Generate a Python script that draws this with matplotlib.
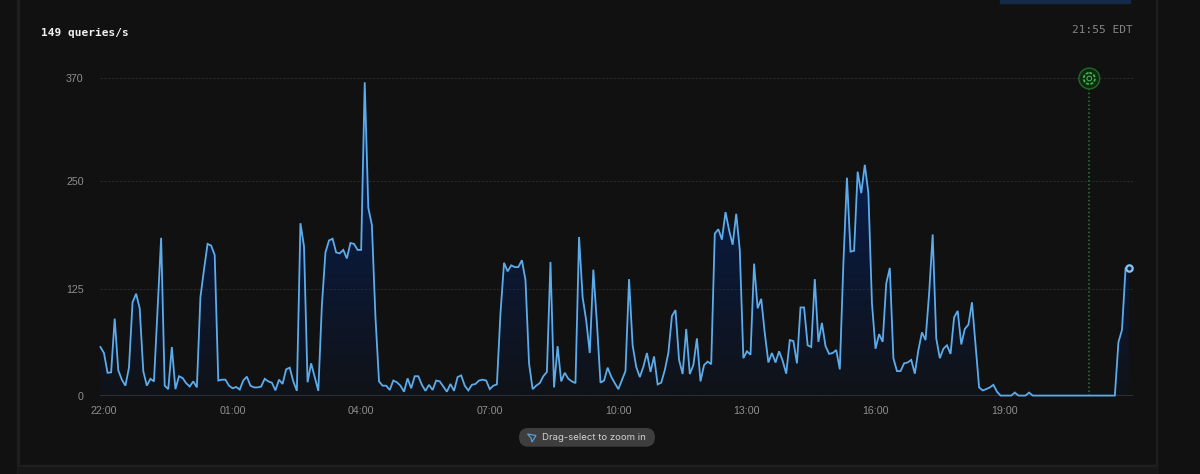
import numpy as np
import matplotlib
matplotlib.use("Agg")
import matplotlib.pyplot as plt
from matplotlib.patches import Circle, FancyBboxPatch, Polygon, Rectangle

# queries/s, one sample every 5 minutes starting 21:55
night = [57, 50, 27, 27.5, 90, 30, 19, 12, 33, 109, 119, 102, 29, 12, 20, 17,
         100, 184, 12, 8, 57, 8, 23, 21, 15, 11, 17, 10,
         115, 147, 177, 175, 164, 18, 19, 19, 12, 9, 10.5, 7.5,
         18, 22.5, 12, 10, 10, 11, 20, 17, 15.5, 6.5, 19, 14, 31, 33, 17, 6,
         201, 174, 16, 38, 22, 6, 105, 167,
         181, 183, 167, 166, 170, 160, 178, 177, 170, 170,
         365, 219, 199, 92, 17, 12, 12, 7, 18, 16]
morning = [12, 5, 20.5, 9, 23, 23, 13, 6, 13, 7, 18, 17, 11, 5, 14, 6, 22, 24, 12, 6.5,
           13, 14, 18, 19, 18, 8, 12, 13.5,
           96, 155, 145, 152, 150, 150, 158, 135, 38, 8, 12, 15, 23, 28,
           156, 10, 58, 17, 27, 20, 17, 15, 185, 115, 88, 50,
           147, 85, 15.5, 18, 33, 22.5, 15, 8, 18.5, 29, 136, 59, 34, 22, 34, 50, 28, 46,
           13.5, 15.5, 30, 50, 93, 100, 42, 25.6, 78, 25.6, 36, 67, 17, 36, 40, 37]
afternoon = [189, 194, 182, 214, 193, 176, 212, 170, 44, 52, 48, 154, 102, 113, 73, 39,
             50, 39, 52, 41, 26, 65, 64, 38, 103, 103, 59, 57, 136, 63, 85, 58,
             49, 50, 53.5, 31, 154, 254, 168, 169, 261, 236, 269, 236, 108, 55, 72, 63,
             131, 149, 44, 29, 29, 38, 39, 42, 26, 53.5, 74, 65, 119, 188, 67, 44, 55, 59, 49]
evening = [91.5, 99, 60, 78, 83, 109, 59, 10, 6.5, 8, 10, 13, 5,
           0.5, 0.5, 0.5, 0.5, 4, 0.5, 0.5, 0.5, 4,
           0.5, 0.5, 0.5, 0.5, 0.5, 0.5, 0.5, 0.5, 0.5, 0.5, 0.5,
           0.5, 0.5, 0.5, 0.5, 0.5, 0.5, 0.5, 0.5, 0.5, 0.5, 0.5, 0.5, 0.5,
           62.5, 77, 148.5, 149]
queries = night + morning + afternoon + evening

y_ticks = [0, 125, 250, 370]
x_labels = ["22:00", "01:00", "04:00", "07:00", "10:00", "13:00", "16:00", "19:00"]
x_tick_samples = [1, 37, 73, 109, 145, 181, 217, 253]
annotation_at = 276.8

BG = "#111111"
W, H = 1200, 474
LEFT, RIGHT, TOP, BOTTOM = 100.4, 1132.7, 78, 396
STEP = 3.572

fig = plt.figure(figsize=(W / 100, H / 100), dpi=100, facecolor=BG)

# page furniture, in pixel coordinates
page = fig.add_axes([0, 0, 1, 1], zorder=2)
page.set_xlim(0, W)
page.set_ylim(H, 0)
page.axis("off")
page.patch.set_alpha(0)
page.add_patch(Rectangle((17, 0), 1.5, H, color="#1e1e1e"))
page.add_patch(Rectangle((1155.5, 0), 1.5, H, color="#1e1e1e"))
page.add_patch(Rectangle((18, 465), 1137.5, 9, color="#171717"))
page.add_patch(Rectangle((18, 464.5), 1137.5, 1.2, color="#1f1f1f"))
page.add_patch(Rectangle((1000, 0), 130, 2.6, color="#12294a"))
page.text(41, 33, "149 queries/s", color="#f0f0f0", family="DejaVu Sans Mono",
          weight="bold", fontsize=8, va="center", ha="left")
page.text(1133, 29.5, "21:55 EDT", color="#858585", family="DejaVu Sans Mono",
          fontsize=8, va="center", ha="right")

# hint pill under the chart
page.add_patch(FancyBboxPatch((519, 428), 136, 18.7, boxstyle="round,pad=0,rounding_size=9.3",
                              facecolor="#3e3e3e", edgecolor="none"))
page.add_patch(Polygon([(527.5, 434), (536, 435.5), (532, 442), (531, 438)], closed=True,
                       facecolor="none", edgecolor="#5a9bd5", linewidth=0.9))
page.text(541.5, 437.5, "Drag-select to zoom in", color="#d2d2d2", family="Inter",
          fontsize=6.9, va="center", ha="left")

ax = fig.add_axes([LEFT / W, (H - BOTTOM) / H, (RIGHT - LEFT) / W, (BOTTOM - TOP) / H], zorder=1)
ax.patch.set_alpha(0)
x = np.arange(len(queries))
x_max = (RIGHT - LEFT) / STEP

# vertical gradient under the line
gradient = np.zeros((256, 1, 4))
gradient[..., :3] = (0, 40 / 255, 125 / 255)
gradient[..., 3] = np.linspace(0.7, 0.06, 256)[:, None]
img = ax.imshow(gradient, extent=(0, len(queries), 0, 370), origin="upper", aspect="auto", zorder=1)
area = ax.fill_between(x, queries, 0, facecolor="none", edgecolor="none")
img.set_clip_path(area.get_paths()[0], transform=ax.transData)
ax.set_xlim(0, x_max)
ax.set_ylim(0, 370)

ax.set_yticks(y_ticks)
ax.set_xticks(x_tick_samples)
ax.set_xticklabels(x_labels)
ax.tick_params(length=0, colors="#8e8e8e", labelsize=7.7, labelfontfamily="Liberation Sans")
ax.tick_params(axis="x", pad=7)
ax.tick_params(axis="y", pad=12)
for side in ax.spines:
    ax.spines[side].set_visible(False)
for tick in y_ticks[1:]:
    ax.axhline(tick, color="#2a2a2a", lw=0.7, ls=(0, (2.5, 1.5)), zorder=0)
ax.axhline(0, color="#333840", lw=1.2, zorder=0)

ax.plot(x, queries, color="#5cacec", lw=1.3, solid_joinstyle="miter", zorder=3, clip_on=False)
ax.plot(x[-1:], queries[-1:], "o", ms=4.6, mfc="#14263c", mec="#84c4f7", mew=1.6, zorder=4, clip_on=False)

# deploy marker
ax.plot([annotation_at, annotation_at], [0, 370], color="#2f7a35", lw=1.1, ls=(0, (1, 1.6)), zorder=2)
gx, gy = 1089.3, 78.5
page.add_patch(Circle((gx, gy), 10.4, facecolor="#0e2a11", edgecolor="#1f6b29", linewidth=1))
page.add_patch(Circle((gx, gy), 5.6, facecolor="none", edgecolor="#45b04f", linewidth=1.3, ls=(0, (1.6, 0.9))))
page.add_patch(Circle((gx, gy), 2.3, facecolor="none", edgecolor="#45b04f", linewidth=0.8))

fig.savefig("out.png", dpi=100, facecolor=BG)
